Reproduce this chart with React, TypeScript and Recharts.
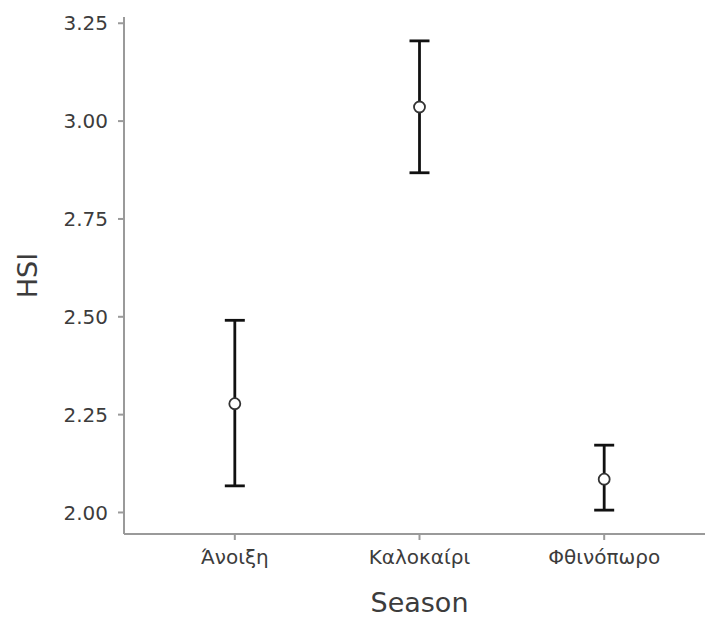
import React from 'react';
import { ComposedChart, Scatter, XAxis, YAxis, ErrorBar } from 'recharts';

const categories = ['Άνοιξη', 'Καλοκαίρι', 'Φθινόπωρο'];
const means = [2.278, 3.036, 2.085];
const lowers = [2.068, 2.868, 2.006];
const uppers = [2.491, 3.205, 2.172];
const yTicks = [2.0, 2.25, 2.5, 2.75, 3.0, 3.25];
const xTicks = [1, 2, 3];

const data = categories.map((c, i) => ({
  x: i + 1,
  name: c,
  mean: means[i],
  err: [means[i] - lowers[i], uppers[i] - means[i]],
}));

const FONT = 'DejaVu Sans';
const AXIS = '#9a9a9a';
const TEXT = '#3c3c3c';

const Dot = (props: any) => {
  const { cx, cy } = props;
  return <circle cx={cx} cy={cy} r={5.5} fill="#ffffff" stroke="#333333" strokeWidth={1.8} />;
};

export default function App() {
  return (
    <div style={{ position: 'absolute', left: 0, top: 0, width: 705, height: 619, overflow: 'hidden', background: '#fff' }}>
      <ComposedChart width={720} height={619} data={data} margin={{ top: 17, right: 5, left: 0, bottom: 0 }}>
        <XAxis
          type="number"
          dataKey="x"
          domain={[0.4, 3.6]}
          ticks={xTicks}
          tickFormatter={(v: number) => categories[v - 1]}
          height={85}
          axisLine={{ stroke: AXIS, strokeWidth: 2 }}
          tickLine={{ stroke: AXIS, strokeWidth: 2 }}
          tickSize={6}
          tickMargin={10}
          tick={{ fill: TEXT, fontSize: 20, fontFamily: FONT }}
          label={{ value: 'Season', position: 'insideBottom', offset: 0, dy: -7, fill: TEXT, fontSize: 27, fontFamily: FONT }}
          allowDataOverflow
        />
        <YAxis
          type="number"
          domain={[1.945, 3.266]}
          ticks={yTicks}
          tickFormatter={(v: number) => v.toFixed(2)}
          width={124}
          axisLine={{ stroke: AXIS, strokeWidth: 2 }}
          tickLine={{ stroke: AXIS, strokeWidth: 2 }}
          tickSize={6}
          tickMargin={10}
          tick={{ fill: TEXT, fontSize: 20, fontFamily: FONT }}
          label={{ value: 'HSI', angle: -90, position: 'center', dx: -35, fill: TEXT, fontSize: 27, fontFamily: FONT }}
          allowDataOverflow
        />
        <Scatter dataKey="mean" isAnimationActive={false} shape={<Dot />}>
          <ErrorBar dataKey="err" direction="y" width={10} stroke="#111111" strokeWidth={2.8} />
        </Scatter>
      </ComposedChart>
    </div>
  );
}
